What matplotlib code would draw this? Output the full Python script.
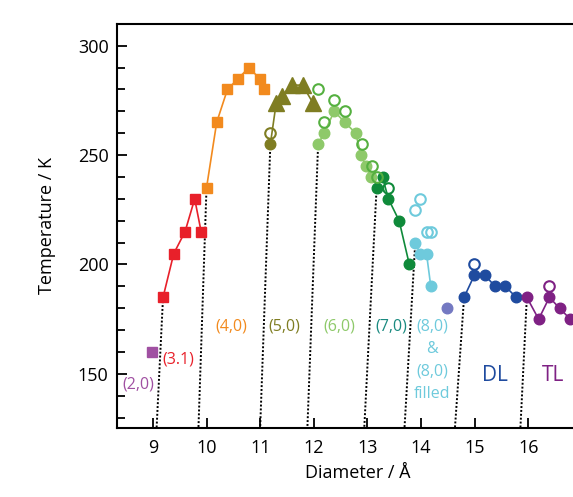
import matplotlib
matplotlib.use("Agg")
import matplotlib.pyplot as plt
from matplotlib.ticker import MultipleLocator

plt.rcParams['font.family'] = ['Open Sans', 'DejaVu Sans']

# ---- data ----
c20_x = [8.98]; c20_T = [160]
c31_x = [9.19, 9.39, 9.60, 9.78, 9.90]; c31_T = [185, 205, 215, 230, 215]
c40_x = [10.00, 10.19, 10.39, 10.59, 10.79, 10.99, 11.08]; c40_T = [235, 265, 280, 285, 290, 285, 280]
c50_x = [11.19]; c50_T = [255]
c50_open_x = [11.19]; c50_open_T = [260]
c50_tri_x = [11.30, 11.40, 11.59, 11.79, 11.98]; c50_tri_T = [274, 277, 282, 282, 274]
c60_x = [12.08, 12.19, 12.38, 12.58, 12.78, 12.88, 12.97, 13.06]; c60_T = [255, 260, 270, 265, 260, 250, 245, 240]
c60_open_x = [12.08, 12.19, 12.38, 12.58, 12.89, 13.08, 13.17]; c60_open_T = [280, 265, 275, 270, 255, 245, 240]
c70_x = [13.17, 13.28, 13.39, 13.59, 13.78]; c70_T = [235, 240, 230, 220, 200]
c70_open_x = [13.39]; c70_open_T = [235]
c80_x = [13.89, 13.98, 14.10, 14.18]; c80_T = [210, 205, 205, 190]
c80_open_x = [13.89, 13.98, 14.10, 14.18]; c80_open_T = [225, 230, 215, 215]
c80f_x = [14.49]; c80f_T = [180]
dl_x = [14.80, 14.99, 15.19, 15.38, 15.57, 15.77]; dl_T = [185, 195, 195, 190, 190, 185]
dl_open_x = [14.99]; dl_open_T = [200]
tl_x = [15.97, 16.19, 16.39, 16.58, 16.78]; tl_T = [185, 175, 185, 180, 175]
tl_open_x = [16.39]; tl_open_T = [190]

# dotted guide lines: (top x, top T, bottom x)
guide_top_x = [9.19, 10.00, 11.19, 12.08, 13.17, 13.89, 14.80, 15.97]
guide_top_T = [185, 235, 255, 255, 235, 210, 185, 185]
guide_bot_x = [9.07, 9.85, 11.00, 11.88, 12.94, 13.69, 14.63, 15.85]

labels = ["(2,0)", "(3.1)", "(4,0)", "(5,0)", "(6,0)", "(7,0)", "(8,0)", "&", "(8,0)", "filled", "DL", "TL"]
label_x = [8.72, 9.47, 10.47, 11.45, 12.48, 13.45, 14.20, 14.20, 14.20, 14.20, 15.38, 16.45]
label_T = [145, 156.5, 171.8, 171.8, 171.8, 171.8, 171.8, 161.5, 151.3, 140.6, 149.3, 149.3]

# colours
col20 = '#a050a2'; col31 = '#e8202a'; col40 = '#f28a1e'; col50 = '#7f7d22'
col60 = '#8ec96a'; col60o = '#55b040'; col70 = '#0f8a3a'; col70t = '#1a8a80'
col80 = '#6ecadc'; col80f = '#7479c2'; coldl = '#1f4b9f'; coltl = '#7f2184'
label_cols = [col20, col31, col40, col50, col60, col70t, col80, col80, col80, col80, coldl, coltl]
label_sizes = [11.5, 11.5, 11.5, 11.5, 11.5, 11.5, 11.5, 11.5, 11.5, 11.5, 15, 15]

YMIN, YMAX = 125.3, 310

fig = plt.figure(figsize=(5.73, 4.97), dpi=100)
ax = fig.add_axes([0.204, 0.139, 0.84, 0.813])

# dotted guides
for tx, tT, bx in zip(guide_top_x, guide_top_T, guide_bot_x):
    ax.plot([tx, bx], [tT, YMIN], ls=(0, (1.0, 1.0)), color='black', lw=1.4, zorder=1)

ms_c = 7.6
lw = 1.2
ax.plot(c20_x, c20_T, 's', color=col20, ms=7.5, zorder=3)
ax.plot(c31_x, c31_T, 's-', color=col31, ms=7.5, lw=lw, zorder=3)
ax.plot(c40_x, c40_T, 's-', color=col40, ms=7.5, lw=lw, zorder=3)
ax.plot(c50_x + c50_tri_x[:1], c50_T + c50_tri_T[:1], '-', color=col50, lw=lw, zorder=2)
ax.plot(c50_tri_x, c50_tri_T, '^-', color=col50, ms=12, lw=lw, zorder=3)
ax.plot(c50_x, c50_T, 'o', color=col50, ms=ms_c, zorder=3)
ax.plot(c50_open_x, c50_open_T, 'o', mfc='none', mec=col50, mew=1.5, ms=ms_c, zorder=3)
ax.plot(c60_x, c60_T, 'o-', color=col60, ms=ms_c, lw=lw, zorder=3)
ax.plot(c60_open_x, c60_open_T, 'o', mfc='none', mec=col60o, mew=1.5, ms=ms_c, zorder=4)
ax.plot(c70_x, c70_T, 'o-', color=col70, ms=ms_c, lw=lw, zorder=3)
ax.plot(c70_open_x, c70_open_T, 'o', mfc='none', mec=col70, mew=1.5, ms=ms_c, zorder=4)
ax.plot(c80_x, c80_T, 'o-', color=col80, ms=ms_c, lw=lw, zorder=3)
ax.plot(c80_open_x, c80_open_T, 'o', mfc='none', mec=col80, mew=1.5, ms=ms_c, zorder=4)
ax.plot(c80f_x, c80f_T, 'o', color=col80f, ms=ms_c, zorder=3)
ax.plot(dl_x, dl_T, 'o-', color=coldl, ms=ms_c, lw=lw, zorder=3)
ax.plot(dl_open_x, dl_open_T, 'o', mfc='none', mec=coldl, mew=1.5, ms=ms_c, zorder=4)
ax.plot(tl_x, tl_T, 'o-', color=coltl, ms=ms_c, lw=lw, zorder=3)
ax.plot(tl_open_x, tl_open_T, 'o', mfc='none', mec=coltl, mew=1.5, ms=ms_c, zorder=4)

for t, x, y, c, s in zip(labels, label_x, label_T, label_cols, label_sizes):
    ax.text(x, y, t, color=c, fontsize=s, ha='center', va='center', zorder=5)

ax.set_xlim(8.33, 17.3)
ax.set_ylim(YMIN, YMAX)
ax.xaxis.set_major_locator(MultipleLocator(1))
ax.yaxis.set_major_locator(MultipleLocator(50))
ax.yaxis.set_minor_locator(MultipleLocator(10))
ax.tick_params(axis='both', which='both', direction='in', width=1.3, labelsize=13)
ax.tick_params(axis='both', which='major', length=7)
ax.tick_params(axis='y', which='minor', length=6)
ax.tick_params(axis='y', pad=6)
ax.tick_params(axis='x', pad=8)
for sp in ax.spines.values():
    sp.set_linewidth(1.5)
ax.set_xlabel('Diameter / Å', fontsize=13, labelpad=5)
ax.set_ylabel('Temperature / K', fontsize=13, labelpad=16)

fig.savefig('out.png', dpi=100)
